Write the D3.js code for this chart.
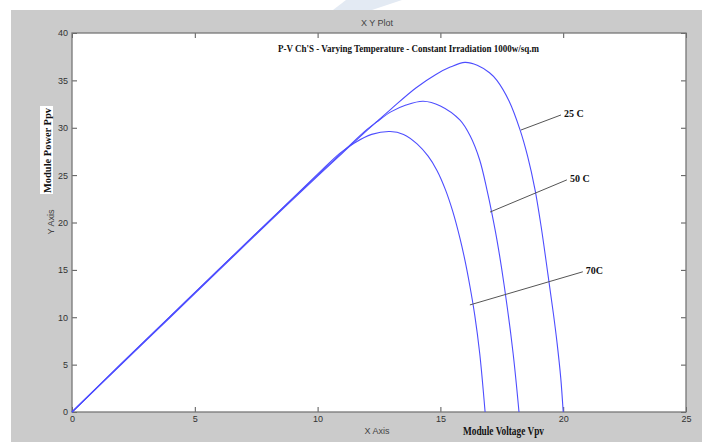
<!DOCTYPE html>
<html>
<head>
<meta charset="utf-8">
<script src="https://cdn.jsdelivr.net/npm/d3@7"></script>
<style>
  body { margin: 0; background: #fff; }
  .tick text { font-family: "Liberation Sans", Arial, sans-serif; font-size: 9px; fill: #333; }
  .tick line { stroke: #555; }
</style>
</head>
<body>
<div id="plot"></div>
<script>
var svgWidth = 702;
var svgHeight = 442;

// plot frame in pixels
var frame = { left: 72, right: 686, top: 33, bottom: 412 };

// series (V in volts, P in watts)
var v25 = [0, 2, 4, 6, 8, 10, 11, 12, 13, 14, 14.8, 15.4, 16.0, 16.5, 17.0, 17.3, 17.8, 18.24, 18.55, 18.85, 19.1, 19.38, 19.6, 19.75, 19.9, 20.0];
var p25 = [0, 5.0, 10.0, 15.0, 20.0, 24.9, 27.3, 29.7, 32.0, 34.2, 35.6, 36.4, 36.9, 36.6, 35.8, 35.0, 32.8, 29.8, 27.0, 23.5, 19.6, 14.5, 10.4, 7.3, 3.6, 0];

var v50 = [0, 2, 4, 6, 8, 10, 11, 12, 12.4, 13, 13.6, 14.3, 15.0, 15.8, 16.2, 16.6, 16.9, 17.0, 17.3, 17.6, 17.96, 18.2];
var p50 = [0, 5.05, 10.1, 15.1, 20.1, 25.0, 27.4, 29.8, 30.6, 31.7, 32.4, 32.8, 32.3, 30.8, 29.2, 26.6, 23.4, 22.2, 18.2, 13.3, 6.2, 0];

var v70 = [0, 2, 4, 6, 8, 10, 10.9, 11.5, 12.2, 12.95, 13.5, 14.05, 14.5, 14.86, 15.2, 15.5, 15.8, 16.0, 16.2, 16.4, 16.6, 16.82];
var p70 = [0, 5.1, 10.1, 15.1, 20.1, 25.1, 27.3, 28.4, 29.3, 29.6, 29.3, 28.3, 27.0, 25.5, 23.5, 21.2, 18.3, 16.0, 13.3, 10.2, 6.2, 0];

var seriesNames = ["25 C", "50 C", "70C"];
var seriesV = [v25, v50, v70];
var seriesP = [p25, p50, p70];

// annotation leader lines: [V, P] on the curve and at the label end
var leaderFrom = [[18.28, 29.76], [17.02, 21.1], [16.2, 11.3]];
var leaderTo = [[19.91, 31.35], [20.15, 24.5], [20.8, 14.8]];

var xTicks = [0, 5, 10, 15, 20, 25];
var yTicks = [0, 5, 10, 15, 20, 25, 30, 35, 40];

var svg = d3.select("#plot")
    .append("svg")
    .attr("width", svgWidth)
    .attr("height", svgHeight);

// grey figure background
svg.append("rect")
    .attr("x", 11).attr("y", 10)
    .attr("width", svgWidth - 11).attr("height", svgHeight - 10)
    .attr("fill", "#cbcbcb");

// faint watermark at the top
svg.append("polygon")
    .attr("points", "333,10 346,0 402,0 372,10")
    .attr("fill", "#e3eaf3");

svg.append("rect")
    .attr("x", frame.left).attr("y", frame.top)
    .attr("width", frame.right - frame.left).attr("height", frame.bottom - frame.top)
    .attr("fill", "#fff");

var x = d3.scaleLinear().domain([0, 25]).range([frame.left, frame.right]);
var y = d3.scaleLinear().domain([0, 40]).range([frame.bottom, frame.top]);

function styleAxis(g) {
    g.select(".domain").remove();
}

svg.append("g")
    .attr("transform", `translate(0, ${frame.bottom})`)
    .call(d3.axisBottom(x).tickValues(xTicks).tickSize(-5).tickSizeOuter(0).tickPadding(4))
    .call(styleAxis);

svg.append("g")
    .attr("transform", `translate(0, ${frame.top})`)
    .call(d3.axisTop(x).tickValues(xTicks).tickSize(-5).tickSizeOuter(0).tickFormat(""))
    .call(styleAxis);

svg.append("g")
    .attr("transform", `translate(${frame.left}, 0)`)
    .call(d3.axisLeft(y).tickValues(yTicks).tickSize(-5).tickSizeOuter(0).tickPadding(4))
    .call(styleAxis);

svg.append("g")
    .attr("transform", `translate(${frame.right}, 0)`)
    .call(d3.axisRight(y).tickValues(yTicks).tickSize(-5).tickSizeOuter(0).tickFormat(""))
    .call(styleAxis);

// frame border
svg.append("rect")
    .attr("x", frame.left).attr("y", frame.top)
    .attr("width", frame.right - frame.left).attr("height", frame.bottom - frame.top)
    .attr("fill", "none")
    .attr("stroke", "#777")
    .attr("stroke-width", 1.3);

var line = d3.line()
    .x(d => x(d[0]))
    .y(d => y(d[1]))
    .curve(d3.curveCatmullRom.alpha(0.5));

seriesV.forEach(function(vs, i) {
    var pts = vs.map((v, j) => [v, seriesP[i][j]]);
    svg.append("path")
        .datum(pts)
        .attr("d", line)
        .attr("fill", "none")
        .attr("stroke", "#4d4dff")
        .attr("stroke-width", 1.1);
});

// leader lines and labels
seriesNames.forEach(function(name, i) {
    svg.append("line")
        .attr("x1", x(leaderFrom[i][0])).attr("y1", y(leaderFrom[i][1]))
        .attr("x2", x(leaderTo[i][0])).attr("y2", y(leaderTo[i][1]))
        .attr("stroke", "#555")
        .attr("stroke-width", 1);
    svg.append("text")
        .attr("x", x(leaderTo[i][0]) + 3)
        .attr("y", y(leaderTo[i][1]) + 2)
        .style("font-family", "'Liberation Serif', 'Times New Roman', serif")
        .style("font-weight", "bold")
        .style("font-size", "10px")
        .attr("fill", "#111")
        .text(name);
});

// titles and axis labels
var serif = "'Liberation Serif', 'Times New Roman', serif";
var sans = "'Liberation Sans', Arial, sans-serif";

svg.append("text")
    .attr("x", 377).attr("y", 26)
    .attr("text-anchor", "middle")
    .style("font-family", sans).style("font-size", "9px")
    .attr("fill", "#444")
    .text("X Y Plot");

svg.append("text")
    .attr("x", 278).attr("y", 52)
    .attr("textLength", 261).attr("lengthAdjust", "spacingAndGlyphs")
    .style("font-family", serif).style("font-weight", "bold").style("font-size", "11px")
    .attr("fill", "#111")
    .text("P-V Ch'S - Varying Temperature - Constant Irradiation 1000w/sq.m");

svg.append("text")
    .attr("x", 377).attr("y", 434)
    .attr("text-anchor", "middle")
    .style("font-family", sans).style("font-size", "9px")
    .attr("fill", "#444")
    .text("X Axis");

svg.append("text")
    .attr("x", 463).attr("y", 435)
    .attr("textLength", 81).attr("lengthAdjust", "spacingAndGlyphs")
    .style("font-family", serif).style("font-weight", "bold").style("font-size", "12px")
    .attr("fill", "#111")
    .text("Module Voltage Vpv");

svg.append("text")
    .attr("transform", "translate(54, 222) rotate(-90)")
    .attr("text-anchor", "middle")
    .style("font-family", sans).style("font-size", "9px")
    .attr("fill", "#444")
    .text("Y Axis");

svg.append("rect")
    .attr("x", 40).attr("y", 106)
    .attr("width", 13).attr("height", 88)
    .attr("fill", "#fff");

svg.append("text")
    .attr("transform", "translate(50.5, 193) rotate(-90)")
    .attr("textLength", 85).attr("lengthAdjust", "spacingAndGlyphs")
    .style("font-family", serif).style("font-weight", "bold").style("font-size", "11px")
    .attr("fill", "#111")
    .text("Module Power Ppv");
</script>
</body>
</html>
